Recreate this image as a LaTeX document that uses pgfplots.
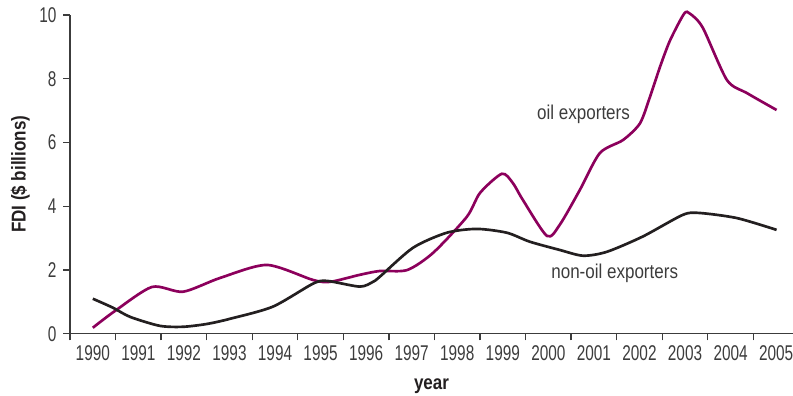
\documentclass[border=0pt]{standalone}
\usepackage{fontspec}
\setmainfont{Liberation Sans}[FakeStretch=0.85]
\newfontfamily\tickfont{Liberation Sans}[FakeStretch=0.72]
\usepackage{pgfplots}
\pgfplotsset{compat=1.18}
\usetikzlibrary{calc}
\definecolor{oilc}{RGB}{140,0,92}
\definecolor{nonoilc}{RGB}{35,31,32}
\definecolor{axc}{RGB}{60,60,60}
\definecolor{txtc}{RGB}{60,60,60}

\begin{document}
\fontsize{15}{17}\selectfont
\begin{tikzpicture}
\begin{axis}[
    scale only axis,
    width=542pt, height=239pt,
    xmin=1989.5, xmax=2005.37,
    ymin=0, ymax=10,
    axis x line=bottom, axis y line=left,
    axis line style={axc, line width=1pt, -},
    tick align=outside,
    major tick length=5pt,
    tick style={axc, line width=1pt},
    xtick={1989.5,1990.5,...,2004.5},
    xticklabels={},
    extra x ticks={1990,1991,...,2005},
    extra x tick labels={1990,1991,1992,1993,1994,1995,1996,1997,1998,1999,2000,2001,2002,2003,2004,2005},
    extra x tick style={major tick length=0pt, tick label style={yshift=-4pt}},
    ytick={0,2,...,10},
    /pgf/number format/assume math mode=true,
    /pgf/number format/1000 sep={},
    ticklabel style={font=\tickfont\fontsize{16}{18}\selectfont, text=txtc},
    xlabel={\textbf{year}},
    ylabel={\textbf{FDI (\$ billions)}},
    label style={font=\fontsize{15}{17}\selectfont, text=nonoilc},
    xlabel style={yshift=2pt},
    ylabel style={yshift=-3pt},
    clip=false,
]
\addplot[oilc, line width=2pt, smooth, tension=0.45] coordinates {
 (1990.00,0.19) (1990.49,0.72) (1991.30,1.47) (1991.98,1.32) (1992.79,1.75)
 (1993.82,2.16) (1994.83,1.69) (1995.21,1.63) (1995.86,1.85) (1996.30,1.97)
 (1996.90,2.00) (1997.47,2.54) (1998.21,3.67) (1998.50,4.42) (1998.98,5.02)
 (1999.22,4.73) (1999.44,4.20) (1999.97,3.07) (2000.25,3.42) (2000.69,4.51)
 (2001.13,5.67) (2001.64,6.08) (2002.01,6.60) (2002.23,7.43) (2002.45,8.37)
 (2002.67,9.20) (2002.98,10.04) (2003.11,10.04) (2003.39,9.60) (2003.92,7.96)
 (2004.36,7.55) (2005.01,7.02)
};
\addplot[nonoilc, line width=2pt, smooth, tension=0.45] coordinates {
 (1990.00,1.10) (1990.44,0.82) (1990.82,0.53) (1991.47,0.25) (1991.98,0.22)
 (1992.51,0.31) (1993.01,0.47) (1993.95,0.85) (1994.83,1.57) (1995.14,1.66)
 (1995.86,1.48) (1996.15,1.63) (1996.30,1.79) (1997.03,2.70) (1997.77,3.17)
 (1998.43,3.29) (1999.09,3.17) (1999.59,2.89) (2000.25,2.63) (2000.76,2.45)
 (2001.28,2.57) (2002.07,3.05) (2002.95,3.73) (2003.32,3.79) (2004.14,3.63)
 (2005.01,3.26)
};
\node[anchor=west, text=txtc, inner sep=0pt, font=\fontsize{15}{17}\selectfont] at (axis cs:1999.75,6.87) {oil exporters};
\node[anchor=west, text=txtc, inner sep=0pt, font=\fontsize{15}{17}\selectfont] at (axis cs:2000.06,1.91) {non-oil exporters};
\end{axis}
\pgfresetboundingbox
\useasboundingbox ($(current axis.south west)+(-52.5pt,-46.5pt)$) rectangle ($(current axis.north east)+(0pt,11.25pt)$);
\end{tikzpicture}
\end{document}
